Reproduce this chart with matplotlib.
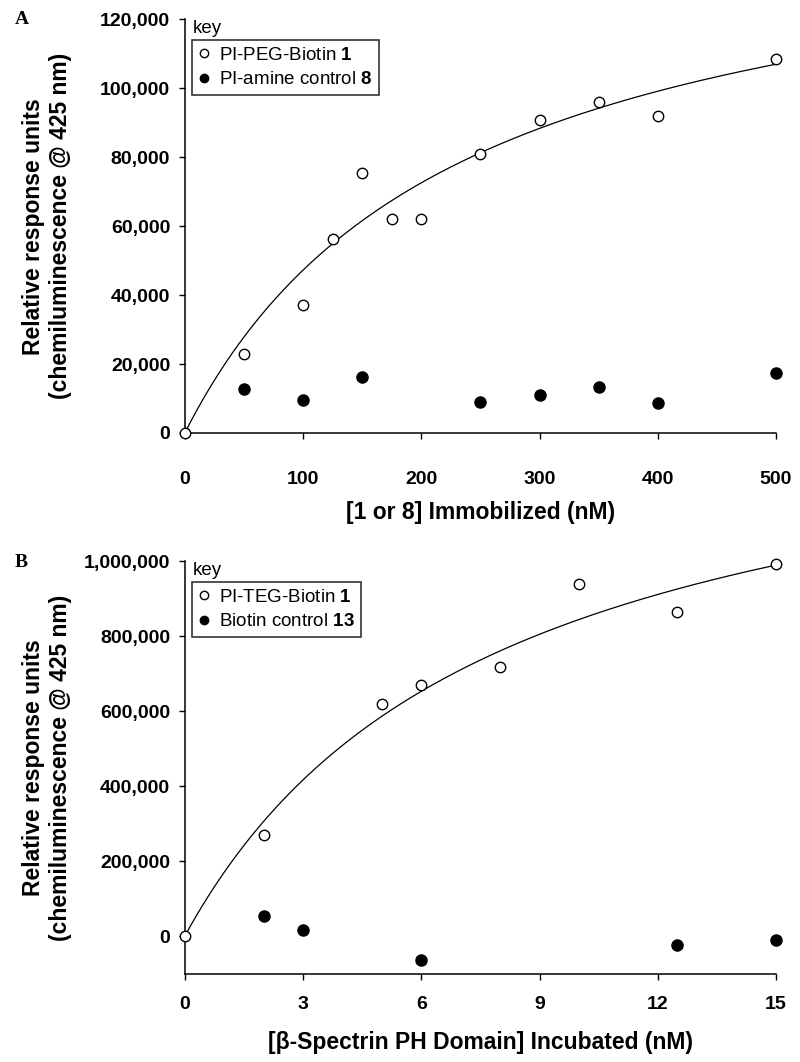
import matplotlib
matplotlib.use('Agg')
import matplotlib.pyplot as plt
import numpy as np
from matplotlib.lines import Line2D

plt.rcParams['font.family'] = ['Liberation Sans', 'DejaVu Sans']
plt.rcParams['mathtext.fontset'] = 'custom'
plt.rcParams['mathtext.rm'] = 'Liberation Sans'
plt.rcParams['mathtext.bf'] = 'Liberation Sans:bold'

# panel A data
a_peg_x = [0, 50, 100, 125, 150, 175, 200, 250, 300, 350, 400, 500]
a_peg_y = [0, 22900, 37200, 56400, 75400, 62000, 62200, 80800, 90700, 95900, 92000, 108500]
a_amine_x = [50, 100, 150, 250, 300, 350, 400, 500]
a_amine_y = [12700, 9600, 16300, 9100, 11000, 13200, 8700, 17500]
a_fit = (156400, 231)  # Bmax, Kd of the saturation curve

# panel B data
b_teg_x = [0, 2, 5, 6, 8, 10, 12.5, 15]
b_teg_y = [0, 268500, 619700, 670400, 717300, 939700, 864000, 993000]
b_ctrl_x = [2, 3, 6, 12.5, 15]
b_ctrl_y = [53300, 15100, -63000, -24000, -10700]
b_fit = (1508000, 7.86)

a_xticks = [0, 100, 200, 300, 400, 500]
a_yticks = [0, 20000, 40000, 60000, 80000, 100000, 120000]
b_xticks = [0, 3, 6, 9, 12, 15]
b_yticks = [0, 200000, 400000, 600000, 800000, 1000000]

ylabel = 'Relative response units\n(chemiluminescence @ 425 nm)'


def draw_panel(ax, ox, oy, fx, fy, fit, xmax, ymin, ymax, xticks, yticks,
               labels, xlabel, xpad, xlabelpad):
    xs = np.linspace(0, xmax, 300)
    ax.plot(xs, fit[0] * xs / (fit[1] + xs), color='black', lw=0.9, zorder=2)
    ax.plot(fx, fy, 'o', color='black', ms=8, zorder=3, clip_on=False)
    ax.plot(ox, oy, 'o', mfc='white', mec='black', mew=1.0, ms=7.5, zorder=4, clip_on=False)

    ax.set_xlim(0, xmax)
    ax.set_ylim(ymin, ymax)
    ax.set_xticks(xticks)
    ax.set_yticks(yticks)
    ax.set_yticklabels([f'{v:,}' for v in yticks])
    for s in ['top', 'right']:
        ax.spines[s].set_visible(False)
    for s in ['left', 'bottom']:
        ax.spines[s].set_linewidth(1.1)
    ax.tick_params(axis='both', direction='out', length=4.5, width=1.0, labelsize=14)
    ax.tick_params(axis='x', pad=xpad)
    ax.tick_params(axis='y', pad=6)
    for t in ax.get_xticklabels() + ax.get_yticklabels():
        t.set_fontweight('bold')

    ax.set_ylabel(ylabel, fontsize=16.5, fontweight='bold', linespacing=1.25)
    ax.yaxis.set_label_coords(-0.19, 0.5)
    ax.set_xlabel(xlabel, fontsize=16.5, fontweight='bold', labelpad=xlabelpad)

    handles = [
        Line2D([], [], ls='none', marker='o', mfc='white', mec='black', mew=1.0, ms=6),
        Line2D([], [], ls='none', marker='o', color='black', ms=6),
    ]
    leg = ax.legend(handles, labels, loc='upper left', bbox_to_anchor=(0.012, 0.95),
                    fontsize=13.5, frameon=True, fancybox=False, edgecolor='black',
                    handlelength=0.6, handletextpad=0.5, borderpad=0.35,
                    labelspacing=0.4, borderaxespad=0)
    leg.get_frame().set_linewidth(1.2)
    ax.text(0.014, 0.958, 'key', transform=ax.transAxes, fontsize=13.5,
            ha='left', va='bottom')


fig = plt.figure(figsize=(8, 10.62), dpi=100)

ax_a = fig.add_axes([0.231, 0.5923, 0.739, 0.3895])
draw_panel(ax_a, a_peg_x, a_peg_y, a_amine_x, a_amine_y, a_fit, 500, 0, 120000,
           a_xticks, a_yticks,
           [r'PI-PEG-Biotin $\mathbf{1}$', r'PI-amine control $\mathbf{8}$'],
           '[1 or 8] Immobilized (nM)', 23, 9)

ax_b = fig.add_axes([0.231, 0.0826, 0.739, 0.389])
draw_panel(ax_b, b_teg_x, b_teg_y, b_ctrl_x, b_ctrl_y, b_fit, 15, -102000, 1000000,
           b_xticks, b_yticks,
           [r'PI-TEG-Biotin $\mathbf{1}$', r'Biotin control $\mathbf{13}$'],
           '[β-Spectrin PH Domain] Incubated (nM)', 11, 13)

fig.text(0.018, 0.982, 'A', fontsize=14, fontweight='bold', family='Liberation Serif', va='center')
fig.text(0.018, 0.470, 'B', fontsize=14, fontweight='bold', family='Liberation Serif', va='center')

fig.savefig('out.png', dpi=100)
